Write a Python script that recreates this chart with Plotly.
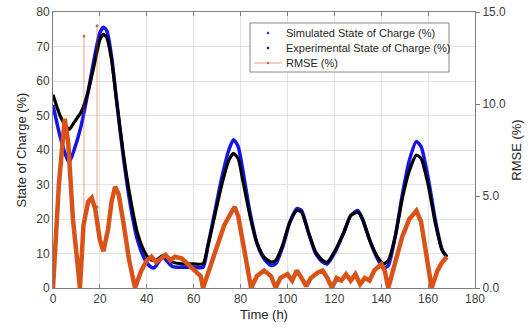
import plotly.graph_objects as go

# ---- data ----
t_sim = [0, 3, 6, 7, 9, 12, 15, 18, 20, 21.5, 23, 25, 27, 30, 33, 36, 39, 41, 43, 45, 47, 49, 51, 55, 60, 64,
         66, 69, 72, 75, 77, 79, 81, 84, 87, 90, 93, 95, 98, 101, 104, 106, 109, 112, 115, 117, 120, 124, 127,
         130, 132, 135, 138, 141, 143, 146, 149, 152, 155, 157, 160, 163, 166, 168]
soc_sim = [53, 44, 37.5, 36.5, 40, 47, 57, 68, 74, 75.6, 74.5, 67, 55, 38, 24, 14, 8.5, 6.5, 5.8, 7.5, 9, 7.5, 6.2, 6, 6, 6,
           12, 22, 32, 40, 43, 41, 34, 22, 13, 8.5, 6.5, 7, 12, 19, 23, 22.5, 16, 10, 7.5, 7, 10, 16, 21,
           22.5, 20, 14, 9, 5.8, 6.5, 15, 27, 37, 42.5, 41, 32, 20, 11, 9]

t_exp = t_sim
soc_exp = [56, 50, 46.5, 46, 48, 51, 57, 66, 72, 73.5, 72.5, 66, 55, 39, 26, 16, 10.5, 8.5, 8, 8.5, 9.5, 8.5, 7.5, 7, 7, 7,
           12, 21, 30, 37, 39, 37.5, 31, 21, 13, 9, 7.5, 8, 12.5, 19, 22.5, 22, 16, 10.5, 8, 7.5, 10.5, 16, 21,
           22, 20, 14, 9.5, 7, 8, 15, 26, 34, 38.5, 37.5, 30, 19, 11, 9]

t_rmse = [0, 2.5, 5, 6.5, 8.5, 11.5, 13, 15, 16.5, 18, 20, 21.5, 23.5, 25, 26.5, 28, 30, 32.5, 35, 37.5, 40, 42,
          44, 46, 48, 50, 52, 55, 59, 63, 64, 67, 70, 73, 76, 77.5, 79, 81, 83, 84.5, 87, 90, 93, 95, 97, 100,
          102, 104, 106, 108, 110, 113, 115, 117, 119, 121, 123, 125, 127, 129, 131, 133, 135, 137, 140, 141.5,
          143, 146, 149, 152, 155, 157, 159.5, 161.5, 164, 166, 168]
rmse = [0, 5.6, 9.2, 7.9, 3.75, 0, 3.4, 4.7, 4.9, 4.3, 2.6, 2.0, 3.2, 4.7, 5.5, 5.1, 3.6, 1.5, 0, 0.9, 1.5, 1.7,
        1.4, 1.6, 1.8, 1.5, 1.7, 1.6, 1.1, 0.65, 0, 1.1, 2.25, 3.4, 4.1, 4.4, 3.9, 2.4, 0.9, 0, 0.65, 0.95, 0.65, 0, 0.55, 0.75,
        0.4, 0.95, 0.55, 0.1, 0.55, 0.85, 0.95, 0.55, 0, 0.55, 0.4, 0.75, 0.4, 0.75, 0.2, 0.55, 0.4, 0.95, 1.3, 0.95,
        0, 1.5, 2.8, 3.75, 4.2, 3.6, 1.7, 0, 0.95, 1.4, 1.7]

spike_t = [13.2, 18.8]
spike_base = [3.6, 4.4]
spike_peak = [13.7, 14.25]

series_names = ["Simulated State of Charge (%)", "Experimental State of Charge (%)", "RMSE (%)"]

x_ticks = [0, 20, 40, 60, 80, 100, 120, 140, 160, 180]
y_ticks = [0, 10, 20, 30, 40, 50, 60, 70, 80]
y2_ticks = [0, 5, 10, 15]

BLUE = "#1414E6"
BLACK = "#000000"
ORANGE = "#D95319"
ORANGE_THIN = "rgba(217,83,25,0.55)"
FONT = "Liberation Sans, Arial, sans-serif"

W, H = 529, 330
ML, MR, MT, MB = 53, 54, 12, 42
PW, PH = W - ML - MR, H - MT - MB


def px(x):  # pixel x -> paper x
    return (x - ML) / PW


def py(y):  # pixel y -> paper y
    return (H - MB - y) / PH


fig = go.Figure()

fig.add_trace(go.Scatter(x=t_sim, y=soc_sim, mode="lines", name=series_names[0],
                         line=dict(color=BLUE, width=3.5, shape="spline", smoothing=0.6),
                         showlegend=False, hoverinfo="skip"))
fig.add_trace(go.Scatter(x=t_exp, y=soc_exp, mode="lines", name=series_names[1],
                         line=dict(color=BLACK, width=3.2, shape="spline", smoothing=0.6),
                         showlegend=False, hoverinfo="skip"))
fig.add_trace(go.Scatter(x=t_rmse, y=rmse, mode="lines", yaxis="y2", name=series_names[2],
                         line=dict(color=ORANGE, width=4.5), showlegend=False, hoverinfo="skip"))

sx, sy = [], []
for t, b, p in zip(spike_t, spike_base, spike_peak):
    sx += [t, t, None]
    sy += [b, p, None]
fig.add_trace(go.Scatter(x=sx, y=sy, mode="lines+markers", yaxis="y2", showlegend=False, hoverinfo="skip",
                         line=dict(color=ORANGE_THIN, width=1), marker=dict(color="rgba(160,90,40,0.8)", size=3)))

# ---- hand-built legend box (layout decoration) ----
shapes = [dict(type="rect", xref="paper", yref="paper", x0=px(250), x1=px(449), y0=py(72), y1=py(23),
               line=dict(color="#8a8a8a", width=1), fillcolor="white", layer="above")]
annotations = []
rows = [33, 48, 63]
sym_colors = [BLUE, BLACK, "rgba(160,90,40,0.8)"]
for i, (name, ry) in enumerate(zip(series_names, rows)):
    annotations.append(dict(xref="paper", yref="paper", x=px(284), y=py(ry), xanchor="left", yanchor="middle",
                            text=name, showarrow=False, font=dict(family=FONT, size=11, color="#262626")))
    if i == 2:
        shapes.append(dict(type="line", xref="paper", yref="paper", x0=px(254), x1=px(282), y0=py(ry), y1=py(ry),
                           line=dict(color=ORANGE_THIN, width=1), layer="above"))
    shapes.append(dict(type="circle", xref="paper", yref="paper", x0=px(267), x1=px(269), y0=py(ry + 1), y1=py(ry - 1),
                       line=dict(color=sym_colors[i], width=0.5), fillcolor=sym_colors[i], layer="above"))

axis_common = dict(showline=True, linecolor="#7f7f7f", linewidth=1, gridcolor="#e3e3e3",
                   tickfont=dict(family=FONT, size=12, color="#404040"), zeroline=False, automargin=False,
                   title_font=dict(family=FONT, size=13, color="#262626"))

fig.update_layout(
    width=W, height=H,
    margin=dict(l=ML, r=MR, t=MT, b=MB),
    paper_bgcolor="white", plot_bgcolor="white",
    font=dict(family=FONT, color="#262626"),
    xaxis=dict(range=[0, 180], tickvals=x_ticks, title=dict(text="Time (h)", standoff=4),
               mirror="ticks", ticks="inside", ticklen=4, tickcolor="#7f7f7f", **axis_common),
    yaxis=dict(range=[0, 80], tickvals=y_ticks, title=dict(text="State of Charge (%)", standoff=6),
               ticks="", **axis_common),
    yaxis2=dict(range=[0, 15], tickvals=y2_ticks, tickformat=".1f", overlaying="y", side="right",
                title=dict(text="RMSE (%)", standoff=6), ticks="outside", ticklen=4, tickcolor="#7f7f7f",
                showgrid=False, **{k: v for k, v in axis_common.items() if k != "gridcolor"}),
    shapes=shapes,
    annotations=annotations,
    showlegend=False,
)

fig.write_html("out.html")
